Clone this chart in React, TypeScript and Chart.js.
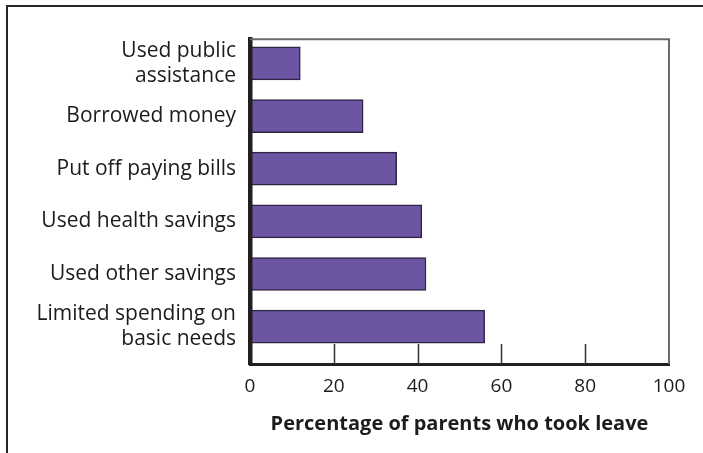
import React, { useEffect, useRef } from "react";
import { Chart, registerables } from "chart.js";

Chart.register(...registerables);

const categories: string[][] = [
  ["Used public", "assistance"],
  ["Borrowed money"],
  ["Put off paying bills"],
  ["Used health savings"],
  ["Used other savings"],
  ["Limited spending on", "basic needs"],
];
const values: number[] = [12, 27, 35, 41, 42, 56];
const xTicks: number[] = [0, 20, 40, 60, 80, 100];
const innerTicks: number[] = [20, 40, 60, 80];
const xTitle = "Percentage of parents who took leave";

const FONT = "'Open Sans', 'Noto Sans', sans-serif";
const TEXT = "#1f1b1c";

const framePlugin = {
  id: "framePlugin",
  afterDraw(chart: any) {
    const { ctx, chartArea } = chart;
    const xs = chart.scales.x;
    ctx.save();
    ctx.strokeStyle = "#6b6b6b";
    ctx.lineWidth = 2;
    ctx.beginPath();
    ctx.moveTo(chartArea.left, chartArea.top);
    ctx.lineTo(chartArea.right, chartArea.top);
    ctx.lineTo(chartArea.right, chartArea.bottom);
    ctx.stroke();
    ctx.strokeStyle = "#333333";
    ctx.lineWidth = 1.5;
    innerTicks.forEach((t) => {
      const px = Math.round(xs.getPixelForValue(t)) + 0.5;
      ctx.beginPath();
      ctx.moveTo(px, chartArea.bottom);
      ctx.lineTo(px, chartArea.bottom - 20);
      ctx.stroke();
    });
    ctx.restore();
  },
};

export default function App() {
  const ref = useRef<HTMLCanvasElement | null>(null);
  useEffect(() => {
    if (!ref.current) return;
    const chart = new Chart(ref.current, {
      type: "bar",
      data: {
        datasets: [
          {
            data: values.map((v, i) => ({ x: v, y: i })) as any,
            backgroundColor: "#6c56a3",
            borderColor: "#2e2545",
            borderWidth: 1.5,
            borderSkipped: "left",
            barThickness: 33,
          },
        ],
      },
      options: {
        indexAxis: "y",
        animation: false,
        responsive: false,
        maintainAspectRatio: false,
        layout: { padding: { top: 37, right: 34, left: 0, bottom: 0 } },
        plugins: {
          legend: { display: false },
          tooltip: { enabled: false },
        },
        scales: {
          x: {
            type: "linear",
            min: 0,
            max: 100,
            afterBuildTicks: (scale: any) => {
              scale.ticks = xTicks.map((v) => ({ value: v }));
            },
            afterFit: (scale: any) => {
              scale.height = 89;
            },
            grid: { display: false, drawTicks: false },
            border: { display: true, color: "#231f20", width: 3, z: 1 },
            ticks: {
              color: TEXT,
              font: { family: FONT, size: 19 },
              padding: 11,
              maxRotation: 0,
            },
            title: {
              display: true,
              text: xTitle,
              color: TEXT,
              font: { family: FONT, size: 20, weight: "bold" },
              padding: { top: 0, bottom: 17 },
            },
          },
          y: {
            type: "linear",
            reverse: true,
            offset: false,
            min: -0.46,
            max: 5.71,
            afterBuildTicks: (scale: any) => {
              scale.ticks = categories.map((_, i) => ({ value: i }));
            },
            afterFit: (scale: any) => {
              scale.width = 250;
            },
            grid: { display: false, drawTicks: false },
            border: { display: true, color: "#231f20", width: 4.5, z: 1 },
            ticks: {
              color: TEXT,
              font: { family: FONT, size: 21, lineHeight: 1.2 },
              padding: 14,
              callback: (v: any) => categories[v as number] ?? "",
            },
          },
        },
      },
      plugins: [framePlugin],
    });
    return () => chart.destroy();
  }, []);
  return (
    <div style={{ position: "fixed", left: 0, top: 0, width: 703, height: 453, background: "#fff" }}>
      <div
        style={{
          position: "absolute",
          left: 6,
          top: 5,
          width: 697,
          height: 448,
          borderTop: "2px solid #262626",
          borderLeft: "2px solid #262626",
          boxSizing: "border-box",
        }}
      />
      <canvas ref={ref} width={703} height={453} style={{ position: "absolute", left: 0, top: 0 }} />
    </div>
  );
}
